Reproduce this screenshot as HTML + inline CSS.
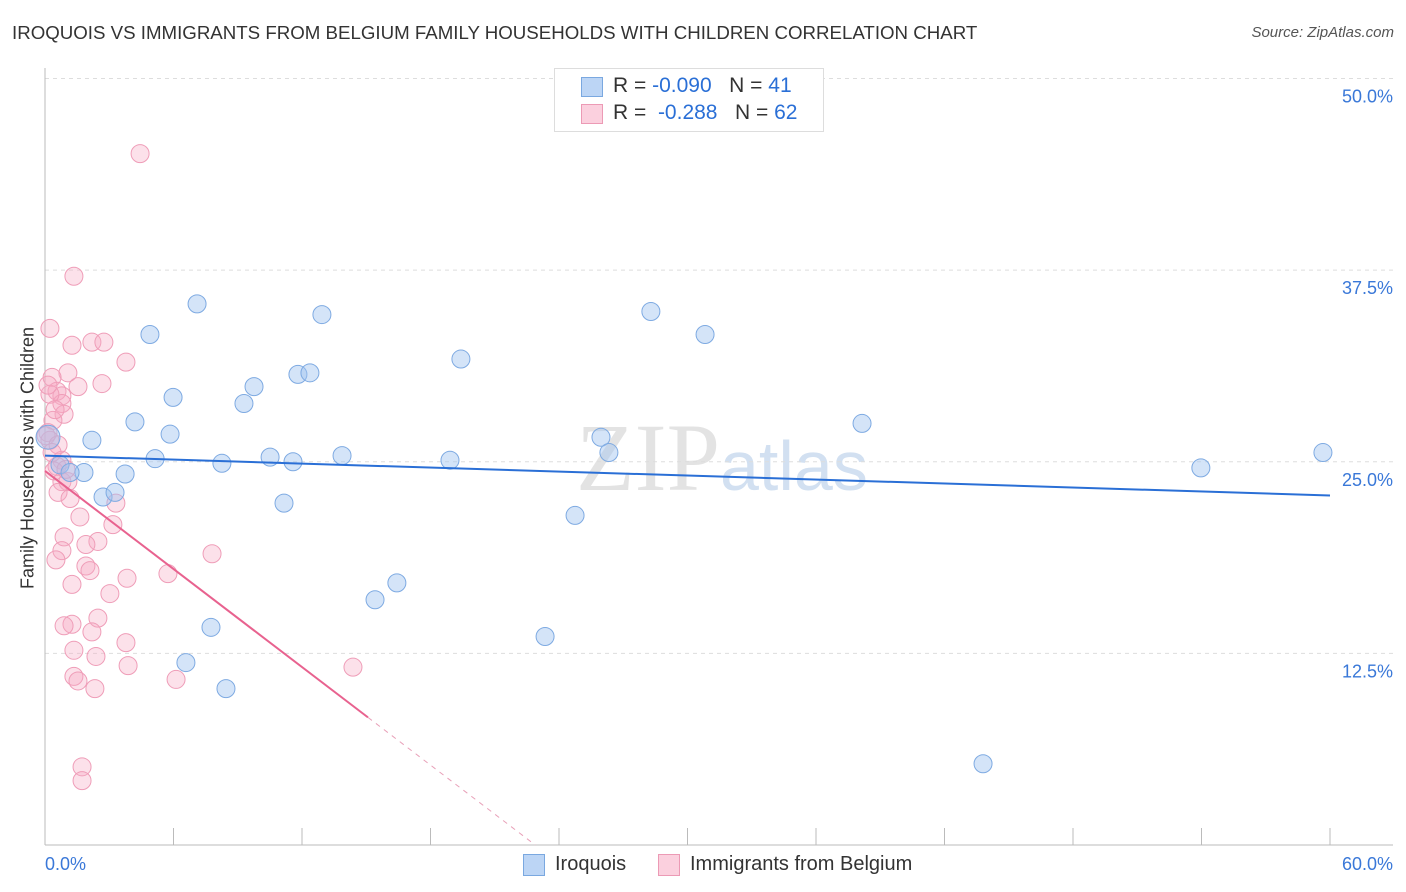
<!DOCTYPE html>
<html><head><meta charset="utf-8">
<style>
body{margin:0;background:#fff;font-family:"Liberation Sans",sans-serif;}
#wrap{position:relative;width:1406px;height:892px;overflow:hidden;}
.t{position:absolute;white-space:nowrap;}
</style></head><body>
<div id="wrap">
<div class="t" style="left:12px;top:22px;font-size:18.7px;color:#333;">IROQUOIS VS IMMIGRANTS FROM BELGIUM FAMILY HOUSEHOLDS WITH CHILDREN CORRELATION CHART</div>
<div class="t" style="right:12px;top:24px;font-size:15px;color:#555;font-style:italic;">Source: ZipAtlas.com</div>
<svg id="svg" width="1406" height="892" style="position:absolute;left:0;top:0">
<text x="720" y="490" text-anchor="end" font-family="Liberation Serif" font-size="96" fill="#ddd" opacity="0.8">ZIP</text>
<text x="720" y="490" font-family="Liberation Sans" font-size="70" fill="#c7d9ee" opacity="0.8">atlas</text>
</svg>
<div style="position:absolute;left:554px;top:68px;width:268px;height:62px;border:1px solid #ddd;background:#fff;font-size:21px;color:#333;">
 <div style="position:absolute;left:26px;top:8px;width:20px;height:18px;background:#bcd5f5;border:1px solid #7aa8e0"></div>
 <div class="t" style="left:58px;top:5px">R = <span style="color:#2a6fd6">-0.090</span>&nbsp;&nbsp;&nbsp;N = <span style="color:#2a6fd6">41</span></div>
 <div style="position:absolute;left:26px;top:35px;width:20px;height:18px;background:#fbd0de;border:1px solid #ec9ab5"></div>
 <div class="t" style="left:58px;top:32px">R = &nbsp;<span style="color:#2a6fd6">-0.288</span>&nbsp;&nbsp;&nbsp;N = <span style="color:#2a6fd6">62</span></div>
</div>
<div class="t" style="left:28px;top:458px;font-size:18px;color:#333;transform:translate(-50%,-50%) rotate(-90deg);">Family Households with Children</div>
<div style="position:absolute;top:852px;left:0;width:1406px;font-size:20px;color:#333;">
 <div style="position:absolute;left:523px;top:2px;width:20px;height:20px;background:#bcd5f5;border:1px solid #7aa8e0"></div>
 <div class="t" style="left:555px;top:1px">Iroquois</div>
 <div style="position:absolute;left:658px;top:2px;width:20px;height:20px;background:#fbd0de;border:1px solid #ec9ab5"></div>
 <div class="t" style="left:690px;top:1px">Immigrants from Belgium</div>
</div>
</div>
<script>
const blueX=[7.10,4.90,12.93,28.29,30.82,19.42,11.81,12.37,9.76,5.98,9.29,4.20,38.15,2.19,5.84,25.96,26.33,5.14,10.51,11.58,13.87,8.26,18.91,59.67,53.97,1.82,3.74,2.71,3.27,11.16,24.75,16.43,15.41,7.75,23.35,6.58,8.45,43.80,0.14,0.70,1.17];
const blueY=[35.3,33.3,34.6,34.8,33.3,31.7,30.7,30.8,29.9,29.2,28.8,27.6,27.5,26.4,26.8,26.6,25.6,25.2,25.3,25.0,25.4,24.9,25.1,25.6,24.6,24.3,24.2,22.7,23.0,22.3,21.5,17.1,16.0,14.2,13.6,11.9,10.2,5.3,26.6,24.8,24.3];
const pinkX=[4.44,1.35,0.23,1.26,2.19,2.75,3.78,1.07,0.33,2.66,1.54,0.56,0.79,0.79,0.89,0.37,0.14,0.23,0.79,0.56,0.42,0.79,1.07,0.61,1.17,3.31,1.63,3.17,0.89,2.47,1.91,0.79,7.80,0.51,1.91,2.10,5.74,3.83,1.26,3.03,2.47,1.26,0.89,2.19,3.78,1.35,2.38,3.88,14.38,1.35,1.54,6.12,2.33,1.73,1.73,0.23,0.05,0.61,0.98,0.33,0.47,0.14];
const pinkY=[45.1,37.1,33.7,32.6,32.8,32.8,31.5,30.8,30.5,30.1,29.9,29.6,29.3,28.8,28.1,27.7,26.9,26.4,25.1,24.7,24.4,23.7,23.7,23.0,22.6,22.3,21.4,20.9,20.1,19.8,19.6,19.2,19.0,18.6,18.2,17.9,17.7,17.4,17.0,16.4,14.8,14.4,14.3,13.9,13.2,12.7,12.3,11.7,11.6,11.0,10.7,10.8,10.2,5.1,4.2,29.4,26.7,26.1,24.5,25.6,28.4,30.0];
const blueLine=[25.4,22.8];
const pinkLine=[24.4,-1.066];
const pinkSolidEnd=15.08;
const yTicks=[12.5,25,37.5,50];
const xTicks=[0,6,12,18,24,30,36,42,48,54,60];
const NS='http://www.w3.org/2000/svg';
const svg=document.getElementById('svg');
const X=v=>45+v/60*1285, Y=v=>845-v*15.33;
function mk(tag,a){const e=document.createElementNS(NS,tag);for(const k in a)e.setAttribute(k,a[k]);svg.appendChild(e);return e;}
yTicks.forEach(t=>{
 const g=mk('line',{x1:45,x2:1393,y1:Y(t),y2:Y(t),stroke:'#ddd','stroke-dasharray':'4,4'});
 
 
 const l=mk('text',{x:1393,y:Y(t)+24,'text-anchor':'end','font-size':18,fill:'#3a78d8','font-family':'Liberation Sans'});
 l.textContent=t.toFixed(1)+'%';
 
 
});
let a=mk('line',{x1:45,x2:1393,y1:845,y2:845,stroke:'#bbb'});


a=mk('line',{x1:45,x2:45,y1:68,y2:845,stroke:'#bbb'});


xTicks.forEach(t=>{
 const e=mk('line',{x1:X(t),x2:X(t),y1:828,y2:845,stroke:'#bbb'});
 
 
});
[[0,'start','0.0%'],[60,'end','60.0%']].forEach(d=>{
 const l=mk('text',{x:d[0]==0?45:1393,y:870,'text-anchor':d[1],'font-size':18,fill:'#3a78d8','font-family':'Liberation Sans'});
 l.textContent=d[2];
 
 
});
pinkX.forEach((x,i)=>{
 const c=mk('circle',{cx:X(x),cy:Y(pinkY[i]),r:9,fill:'rgba(246,170,196,0.35)',stroke:'#ef9db8','stroke-width':1});
 
 
});
blueX.forEach((x,i)=>{
 const c=mk('circle',{cx:X(x),cy:Y(blueY[i]),r:(x<0.2?12:9),fill:'rgba(160,195,240,0.45)',stroke:'#7eaae2','stroke-width':1});
 
 
});
let ln=mk('line',{x1:X(0),y1:Y(blueLine[0]),x2:X(60),y2:Y(blueLine[1]),stroke:'#2a6fd6','stroke-width':2});


const pz=-pinkLine[0]/pinkLine[1];
ln=mk('line',{x1:X(0),y1:Y(pinkLine[0]),x2:X(pinkSolidEnd),y2:Y(pinkLine[0]+pinkLine[1]*pinkSolidEnd),stroke:'#e8628f','stroke-width':2});


ln=mk('line',{x1:X(pinkSolidEnd),y1:Y(pinkLine[0]+pinkLine[1]*pinkSolidEnd),x2:X(pz),y2:Y(0),stroke:'#e8a0b8','stroke-width':1,'stroke-dasharray':'5,5'});


</script>
</body></html>
